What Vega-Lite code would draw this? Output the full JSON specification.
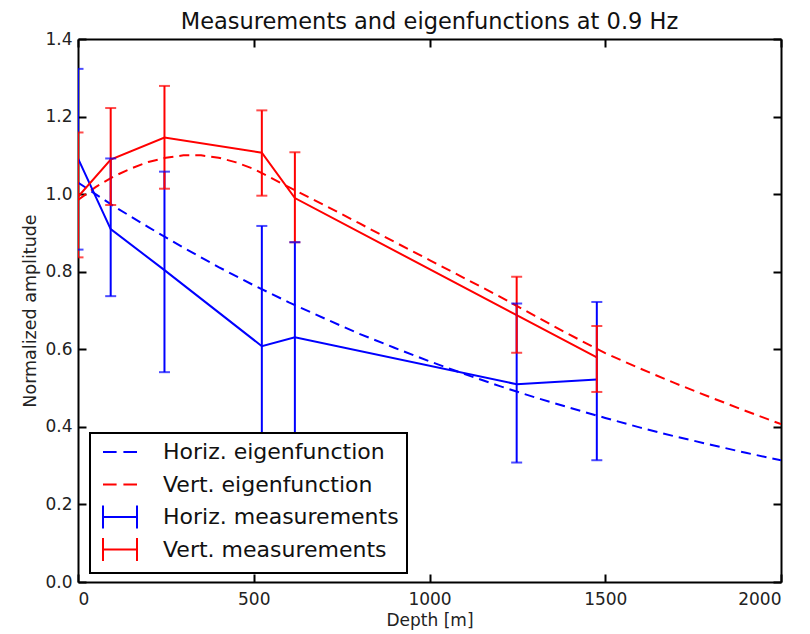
{
  "$schema": "https://vega.github.io/schema/vega-lite/v6.json",
  "width": 703,
  "height": 543,
  "autosize": "none",
  "padding": {"left": 78, "top": 39, "right": 29, "bottom": 52},
  "background": "white",
  "config": {
    "view": {"stroke": null},
    "font": "DejaVu Sans",
    "axis": {"grid": false, "zindex": 1, "domainColor": "black", "domainWidth": 2, "tickColor": "black", "tickWidth": 2, "tickSize": -8, "labelFont": "DejaVu Sans", "labelFontSize": 17, "labelColor": "#222", "titleFont": "DejaVu Sans", "titleFontWeight": "normal", "titleColor": "#222"}
  },
  "title": {"text": "Measurements and eigenfunctions at 0.9 Hz", "font": "DejaVu Sans", "fontSize": 22.5, "fontWeight": "normal", "color": "#111", "offset": -3},
  "datasets": {
    "eig": [
      {"depth": 0, "amp": 1.03, "series": "Horiz. eigenfunction"},
      {"depth": 100, "amp": 0.970, "series": "Horiz. eigenfunction"},
      {"depth": 200, "amp": 0.915, "series": "Horiz. eigenfunction"},
      {"depth": 300, "amp": 0.862, "series": "Horiz. eigenfunction"},
      {"depth": 400, "amp": 0.812, "series": "Horiz. eigenfunction"},
      {"depth": 500, "amp": 0.765, "series": "Horiz. eigenfunction"},
      {"depth": 600, "amp": 0.721, "series": "Horiz. eigenfunction"},
      {"depth": 700, "amp": 0.680, "series": "Horiz. eigenfunction"},
      {"depth": 800, "amp": 0.640, "series": "Horiz. eigenfunction"},
      {"depth": 900, "amp": 0.604, "series": "Horiz. eigenfunction"},
      {"depth": 1000, "amp": 0.569, "series": "Horiz. eigenfunction"},
      {"depth": 1100, "amp": 0.536, "series": "Horiz. eigenfunction"},
      {"depth": 1200, "amp": 0.505, "series": "Horiz. eigenfunction"},
      {"depth": 1300, "amp": 0.476, "series": "Horiz. eigenfunction"},
      {"depth": 1400, "amp": 0.449, "series": "Horiz. eigenfunction"},
      {"depth": 1500, "amp": 0.423, "series": "Horiz. eigenfunction"},
      {"depth": 1600, "amp": 0.398, "series": "Horiz. eigenfunction"},
      {"depth": 1700, "amp": 0.375, "series": "Horiz. eigenfunction"},
      {"depth": 1800, "amp": 0.354, "series": "Horiz. eigenfunction"},
      {"depth": 1900, "amp": 0.333, "series": "Horiz. eigenfunction"},
      {"depth": 2000, "amp": 0.314, "series": "Horiz. eigenfunction"},
      {"depth": 0, "amp": 0.985, "series": "Vert. eigenfunction"},
      {"depth": 50, "amp": 1.018, "series": "Vert. eigenfunction"},
      {"depth": 100, "amp": 1.045, "series": "Vert. eigenfunction"},
      {"depth": 150, "amp": 1.066, "series": "Vert. eigenfunction"},
      {"depth": 200, "amp": 1.083, "series": "Vert. eigenfunction"},
      {"depth": 250, "amp": 1.094, "series": "Vert. eigenfunction"},
      {"depth": 300, "amp": 1.100, "series": "Vert. eigenfunction"},
      {"depth": 350, "amp": 1.100, "series": "Vert. eigenfunction"},
      {"depth": 400, "amp": 1.094, "series": "Vert. eigenfunction"},
      {"depth": 450, "amp": 1.082, "series": "Vert. eigenfunction"},
      {"depth": 500, "amp": 1.065, "series": "Vert. eigenfunction"},
      {"depth": 600, "amp": 1.018, "series": "Vert. eigenfunction"},
      {"depth": 700, "amp": 0.972, "series": "Vert. eigenfunction"},
      {"depth": 800, "amp": 0.925, "series": "Vert. eigenfunction"},
      {"depth": 900, "amp": 0.877, "series": "Vert. eigenfunction"},
      {"depth": 1000, "amp": 0.830, "series": "Vert. eigenfunction"},
      {"depth": 1100, "amp": 0.783, "series": "Vert. eigenfunction"},
      {"depth": 1200, "amp": 0.736, "series": "Vert. eigenfunction"},
      {"depth": 1300, "amp": 0.686, "series": "Vert. eigenfunction"},
      {"depth": 1400, "amp": 0.637, "series": "Vert. eigenfunction"},
      {"depth": 1500, "amp": 0.590, "series": "Vert. eigenfunction"},
      {"depth": 1600, "amp": 0.550, "series": "Vert. eigenfunction"},
      {"depth": 1700, "amp": 0.512, "series": "Vert. eigenfunction"},
      {"depth": 1800, "amp": 0.476, "series": "Vert. eigenfunction"},
      {"depth": 1900, "amp": 0.441, "series": "Vert. eigenfunction"},
      {"depth": 2000, "amp": 0.407, "series": "Vert. eigenfunction"}
    ],
    "meas": [
      {"depth": 0, "amp": 1.092, "lo": 0.857, "hi": 1.323, "series": "Horiz. measurements"},
      {"depth": 93, "amp": 0.910, "lo": 0.737, "hi": 1.092, "series": "Horiz. measurements"},
      {"depth": 246, "amp": 0.804, "lo": 0.541, "hi": 1.058, "series": "Horiz. measurements"},
      {"depth": 523, "amp": 0.608, "lo": 0.298, "hi": 0.918, "series": "Horiz. measurements"},
      {"depth": 617, "amp": 0.631, "lo": 0.381, "hi": 0.876, "series": "Horiz. measurements"},
      {"depth": 1248, "amp": 0.510, "lo": 0.308, "hi": 0.718, "series": "Horiz. measurements"},
      {"depth": 1476, "amp": 0.522, "lo": 0.314, "hi": 0.722, "series": "Horiz. measurements"},
      {"depth": 0, "amp": 0.993, "lo": 0.837, "hi": 1.159, "series": "Vert. measurements"},
      {"depth": 93, "amp": 1.089, "lo": 0.972, "hi": 1.222, "series": "Vert. measurements"},
      {"depth": 246, "amp": 1.146, "lo": 1.014, "hi": 1.279, "series": "Vert. measurements"},
      {"depth": 523, "amp": 1.107, "lo": 0.996, "hi": 1.216, "series": "Vert. measurements"},
      {"depth": 617, "amp": 0.990, "lo": 0.876, "hi": 1.108, "series": "Vert. measurements"},
      {"depth": 1248, "amp": 0.688, "lo": 0.591, "hi": 0.787, "series": "Vert. measurements"},
      {"depth": 1476, "amp": 0.579, "lo": 0.490, "hi": 0.660, "series": "Vert. measurements"}
    ]
  },
  "layer": [
    {
      "data": {"name": "eig"},
      "mark": {"type": "line", "strokeWidth": 2, "strokeDash": [10, 6], "clip": true},
      "encoding": {
        "x": {"field": "depth", "type": "quantitative", "scale": {"domain": [0, 2000], "nice": false},
              "axis": {"orient": "bottom", "values": [0, 500, 1000, 1500, 2000], "format": "d", "title": "Depth [m]", "titleFontSize": 17, "labelPadding": 17, "titlePadding": 5}},
        "y": {"field": "amp", "type": "quantitative", "scale": {"domain": [0, 1.4], "nice": false, "zero": false},
              "axis": {"orient": "left", "values": [0, 0.2, 0.4, 0.6, 0.8, 1.0, 1.2, 1.4], "format": ".1f", "title": "Normalized amplitude", "titleFontSize": 17.5, "labelPadding": 14, "titlePadding": 5}},
        "color": {"field": "series", "type": "nominal",
                  "scale": {"domain": ["Horiz. eigenfunction", "Vert. eigenfunction", "Horiz. measurements", "Vert. measurements"], "range": ["#0000ff", "#ff0000", "#0000ff", "#ff0000"]},
                  "legend": {"orient": "none", "legendX": 12, "legendY": 394, "title": null, "direction": "vertical", "zindex": 2,
                             "strokeColor": "black", "fillColor": "white", "padding": 8, "symbolSize": 289, "symbolStrokeWidth": 2, "symbolOffset": 11,
                             "labelFont": "DejaVu Sans", "labelFontSize": 22, "labelColor": "#111", "labelOffset": 32, "labelLimit": 500, "rowPadding": 0.5,
                             "encode": {
                               "legend": {"update": {"strokeWidth": {"value": 2}}},
                               "symbols": {"update": {
                                 "shape": {"signal": "indexof(datum.value, 'eigen') >= 0 ? 'M-2,-1.35M2,1.35M-2,0H-0.4M0.4,0H2' : 'M-2,-1.35V1.35M-2,0H2M2,-1.35V1.35'"},
                                 "strokeDash": {"value": [1, 0]},
                                 "fill": {"value": "transparent"},
                                 "strokeWidth": {"value": 2}
                               }}
                             }}},
        "detail": {"field": "series"}
      }
    },
    {
      "data": {"name": "meas"},
      "mark": {"type": "line", "strokeWidth": 2, "clip": true},
      "encoding": {
        "x": {"field": "depth", "type": "quantitative", "axis": {"orient": "top", "values": [0, 500, 1000, 1500, 2000], "labels": false, "title": null}},
        "y": {"field": "amp", "type": "quantitative", "axis": {"orient": "right", "values": [0, 0.2, 0.4, 0.6, 0.8, 1.0, 1.2, 1.4], "labels": false, "title": null}},
        "color": {"field": "series", "type": "nominal"}
      }
    },
    {
      "data": {"name": "meas"},
      "mark": {"type": "rule", "strokeWidth": 2, "clip": true},
      "encoding": {
        "x": {"field": "depth", "type": "quantitative", "axis": null},
        "y": {"field": "lo", "type": "quantitative", "axis": null},
        "y2": {"field": "hi"},
        "color": {"field": "series", "type": "nominal"}
      }
    },
    {
      "data": {"name": "meas"},
      "mark": {"type": "tick", "orient": "horizontal", "size": 11, "thickness": 2, "clip": true},
      "encoding": {
        "x": {"field": "depth", "type": "quantitative", "axis": null},
        "y": {"field": "lo", "type": "quantitative", "axis": null},
        "color": {"field": "series", "type": "nominal"}
      }
    },
    {
      "data": {"name": "meas"},
      "mark": {"type": "tick", "orient": "horizontal", "size": 11, "thickness": 2, "clip": true},
      "encoding": {
        "x": {"field": "depth", "type": "quantitative", "axis": null},
        "y": {"field": "hi", "type": "quantitative", "axis": null},
        "color": {"field": "series", "type": "nominal"}
      }
    }
  ],
  "resolve": {"axis": {"x": "independent", "y": "independent"}}
}
